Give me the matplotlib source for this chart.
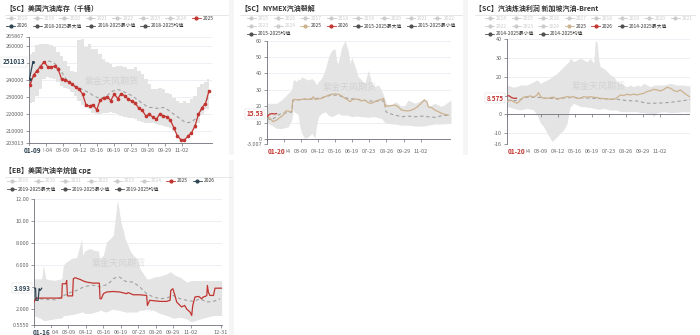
import matplotlib
matplotlib.use('Agg')
import matplotlib.pyplot as plt
import matplotlib.lines as mlines
import matplotlib.patches as mpatches
import pandas as pd

plt.rcParams['font.family'] = ['Noto Sans CJK SC', 'DejaVu Sans']

# ---------------- data ----------------
tick_labels = ['01-01', '02-04', '03-09', '04-12', '05-16', '06-19', '07-23', '08-26', '09-29', '11-02']

# Panel 1: US gasoline stocks (kbbl), weekly 2025 from 01-03
p1_week_start = '2025-01-03'
p1_2025 = [237180, 243140, 245710, 248100, 251070, 248100, 247900, 248300, 246700, 240760,
           240360, 239170, 237580, 236000, 234800, 231800, 225280, 224880, 225680, 222500,
           228450, 229650, 230240, 228050, 231820, 229250, 232220, 230840, 228860, 227660,
           226470, 223500, 222300, 218930, 219920, 218330, 216950, 220320, 218930, 218530,
           216550, 211990, 207030, 205040, 204650, 207030, 209010, 212980, 219920, 223890,
           226270, 233810]
p1_max = [255600, 256600, 260600, 261600, 261600, 261600, 261000, 259600, 256600, 254600,
          251700, 248700, 245700, 245100, 263600, 264600, 259600, 261600, 258600, 258600,
          255600, 252700, 250700, 249700, 247700, 248700, 248700, 247700, 246700, 246700,
          247700, 245700, 243700, 240800, 237800, 234800, 234800, 235200, 234800, 232800,
          231800, 229800, 227900, 226900, 227900, 226900, 228800, 230800, 235800, 237800,
          238800, 240800]
p1_min = [226900, 227300, 230800, 234800, 240800, 241700, 241100, 240800, 239200, 236400,
          235200, 234800, 233200, 230800, 227900, 225300, 224500, 222900, 220900, 219900,
          219900, 220900, 220900, 221300, 220500, 219900, 218900, 218500, 217900, 217900,
          216900, 216000, 215400, 215000, 214600, 214600, 214000, 213400, 213000, 212600,
          212000, 210000, 207030, 205040, 204650, 206500, 208000, 211000, 215000, 219900,
          222900, 223300]
p1_avg = [238000, 242000, 246000, 249000, 251000, 251500, 251000, 250000, 248000, 245000,
          241500, 239000, 237500, 236500, 235500, 234500, 233500, 232500, 231000, 230000,
          229500, 230000, 231000, 233000, 234000, 234500, 234000, 233000, 232000, 231000,
          229500, 228000, 226500, 225000, 224000, 224000, 223500, 223500, 224000, 223000,
          221500, 220000, 218500, 217000, 215500, 215000, 215500, 217000, 219500, 223000,
          227000, 231000]
p1_2026_days = [1, 8]
p1_2026 = [241000, 251013]

# Panel 2: NYMEX gasoline crack
p2_2025_days = [1, 6, 12, 19, 26, 32, 37, 42, 49, 51, 55, 62, 69, 75, 82, 89, 92, 95, 102, 108,
                115, 122, 128, 135, 142, 148, 155, 161, 165, 168, 175, 181, 188, 194, 201, 207,
                214, 221, 227, 231, 234, 241, 247, 254, 260, 267, 274, 280, 287, 294, 300, 307,
                312, 317, 320, 327, 333, 340, 346, 353, 360]
p2_2025 = [14.0, 12.6, 10.6, 11.6, 13.2, 14.6, 17.1, 17.1, 16.5, 23.8, 24.2, 23.8, 24.2, 24.4,
           24.2, 24.8, 25.8, 24.2, 24.4, 24.8, 25.8, 26.8, 27.3, 27.5, 27.3, 26.4, 24.8, 23.8,
           22.8, 23.8, 24.4, 24.2, 23.2, 23.8, 22.2, 21.8, 22.8, 23.8, 24.2, 24.8, 20.1, 20.1,
           20.5, 20.7, 19.7, 17.7, 17.3, 17.1, 17.7, 18.7, 20.1, 22.2, 23.8, 22.8, 19.7, 19.1,
           17.7, 16.7, 15.7, 15.0, 14.6]
p2_2026_days = [0, 5, 10, 15, 19]
p2_2026 = [13.5, 15.2, 15.5, 15.3, 15.53]
p2_avg_days = [1, 9, 19, 29, 42, 49, 52, 69, 89, 108, 128, 142, 148, 161, 175, 188, 201, 214,
               227, 233, 236, 241, 254, 267, 280, 294, 307, 320, 333, 346, 360]
p2_avg = [12.6, 11.6, 14.0, 15.7, 16.0, 16.5, 23.8, 24.2, 24.4, 25.2, 26.8, 26.8, 25.8, 24.8,
          24.4, 23.8, 23.2, 23.2, 23.2, 23.2, 16.7, 15.7, 14.6, 13.6, 14.0, 13.6, 14.0, 13.6,
          13.2, 14.2, 14.6]
p2_band_days = [0, 9, 19, 29, 36, 42, 49, 52, 56, 59, 62, 65, 69, 75, 82, 89, 95, 98, 102, 108,
                115, 122, 128, 135, 138, 141, 148, 155, 161, 165, 168, 175, 181, 188, 194, 201,
                208, 214, 221, 227, 232, 237, 241, 247, 254, 260, 267, 274, 280, 294, 307, 312,
                320, 333, 346, 365]
p2_max = [21.8, 21.8, 21.8, 24, 26, 28, 30, 36, 36, 35, 37, 36, 38, 37, 36, 37, 35, 33, 35, 37,
          42, 50, 54, 55, 48, 46, 56, 60, 54, 46, 50, 44, 38, 36, 34, 42, 34, 32, 33, 30, 26,
          21.8, 21, 20.7, 22.8, 21.8, 19.7, 20.7, 23.8, 21.8, 23.8, 25, 19.7, 21.8, 19.7, 23.8]
p2_min = [9.6, 8.5, 6.5, 6.5, 7, 7.5, 11.6, 17.7, 16, 15.7, 14.6, 7.5, 3.5, 0.4, 1.4, 3.5, 0.4,
          7.5, 13.6, 15.7, 16.7, 14.6, 13.6, 14.6, 15, 15.7, 14.6, 14.6, 14.6, 14, 13.6, 14, 14,
          13.6, 13.6, 13.2, 13.6, 13.6, 13, 12.6, 10.6, 9.6, 9.6, 9.2, 9.2, 8.8, 8.5, 8.5, 8.5,
          7.9, 7.9, 8, 8.5, 9.2, 9.2, 9.6]

# Panel 3: Singapore gasoline - Brent
p3_2025_days = [1, 7, 13, 20, 27, 33, 40, 47, 53, 60, 63, 67, 73, 80, 86, 93, 100, 106, 113, 120,
                126, 133, 140, 146, 153, 160, 166, 173, 180, 186, 193, 200, 206, 213, 219, 226,
                233, 239, 246, 253, 259, 266, 273, 279, 286, 293, 299, 306, 313, 319, 326, 333,
                339, 346, 352, 359, 364]
p3_2025 = [6.8, 7.6, 6.8, 5.9, 7.6, 9.1, 9.4, 9.8, 9.1, 10.3, 11.6, 9.4, 8.5, 8.5, 8.9, 9.1, 8.0,
           8.5, 8.9, 9.4, 9.1, 9.4, 8.5, 8.5, 9.4, 9.1, 9.4, 9.1, 8.9, 8.5, 8.4, 8.2, 8.0, 8.0,
           8.7, 10.3, 10.0, 10.7, 10.3, 10.8, 10.3, 10.8, 11.2, 12.1, 12.6, 13.3, 13.0, 12.4,
           13.3, 14.4, 13.9, 12.6, 12.1, 13.0, 11.6, 10.3, 9.4]
p3_2026_days = [0, 4, 9, 14, 19]
p3_2026 = [9.8, 9.9, 8.9, 8.5, 8.575]
p3_avg_days = [1, 13, 27, 40, 60, 80, 100, 120, 140, 160, 180, 200, 219, 239, 259, 279, 299,
               319, 339, 359, 365]
p3_avg = [7.6, 7.1, 8.0, 9.1, 9.1, 8.5, 8.4, 8.9, 8.9, 8.7, 8.4, 8.2, 8.0, 7.3, 7.1, 5.9, 5.9,
          6.2, 6.8, 7.6, 8.0]
p3_band_days = [1, 13, 27, 40, 53, 60, 67, 73, 80, 86, 90, 100, 106, 113, 120, 123, 126, 133,
                140, 146, 153, 160, 166, 173, 176, 180, 183, 186, 193, 200, 206, 213, 219, 226,
                233, 239, 246, 253, 259, 266, 273, 279, 286, 293, 299, 313, 326, 339, 352, 365]
p3_max = [15.6, 14.4, 15.6, 15.6, 17.4, 18.3, 16.5, 17.4, 18.3, 19.2, 20.1, 21.9, 23.6, 25.4,
          27.2, 28, 29.9, 28.1, 29, 29.9, 29, 28.1, 29.9, 27.2, 39.6, 37.9, 29, 25.4, 24.5, 22.8,
          21, 20.1, 17.4, 16.5, 15.6, 14.7, 15.6, 14.7, 15.6, 15, 16.5, 15.6, 14.7, 15.6, 15.6,
          15.6, 16.5, 15.6, 15.6, 15.1]
p3_min = [4.1, 3.2, 2.3, 3.2, 2.3, -0.4, -4.8, -6.6, -10.1, -12.8, -14.5, -11.9, -10.1, -8.4,
          -4.8, 0.5, 4, 5.9, 5, 4.1, 4.1, 3.7, 3.7, 3.2, 3.2, 2.7, 2.7, 2.7, 3.2, 2.7, 2.3, 2.3,
          2.3, 1.4, 1.4, 1.4, 1.4, 1.4, 1.4, 0.9, 0.9, 0.5, 0.5, -1.2, 0.9, 1.4, 0.9, 1.1, 1.4,
          1.2]

# Panel 4: US gasoline octane value (cpg)
p4_2025_days = [0, 4, 54, 55, 62, 63.5, 65, 75, 76.5, 80, 86, 89.5, 96, 102.5, 109, 115, 127,
                128.4, 131, 135, 141, 154, 167, 180, 183, 193, 206, 219, 220.5, 225, 245, 258,
                264.6, 266, 270, 274, 277.5, 284, 287, 293, 297, 303.5, 306.7, 308.7, 313, 320,
                323, 326, 329, 333, 336, 337.2, 339, 342, 349, 352, 365]
p4_2025 = [2.64, 3.0, 3.0, 4.3, 4.3, 4.6, 3.2, 3.2, 4.76, 4.85, 4.75, 4.7, 4.55, 4.45, 4.4,
           4.36, 4.36, 2.94, 2.94, 3.4, 3.55, 3.6, 3.55, 3.4, 3.5, 3.3, 3.3, 3.24, 2.33, 2.8,
           2.7, 2.7, 2.8, 3.7, 3.85, 3.24, 2.64, 2.33, 2.2, 2.33, 2.0, 1.73, 1.42, 2.33, 3.1,
           3.15, 3.05, 2.94, 3.1, 3.15, 3.24, 4.15, 3.55, 3.24, 3.24, 3.9, 3.9]
p4_2026_days = [0, 3, 4, 8, 10, 12, 15]
p4_2026 = [3.9, 3.9, 2.8, 2.8, 3.85, 3.7, 3.893]
p4_avg_days = [0, 18, 31, 44, 57, 63.5, 70, 83, 96, 109, 122, 128, 135, 141, 148, 154, 161,
               167, 174, 180, 193, 206, 219, 232, 245, 258, 271, 284, 297, 310, 323, 336, 349, 362]
p4_avg = [3.0, 2.9, 2.85, 2.85, 3.2, 3.35, 3.5, 3.7, 4.0, 4.15, 4.15, 4.0, 4.15, 4.2, 4.45,
          4.75, 4.9, 4.9, 4.6, 4.5, 4.45, 4.0, 3.4, 3.1, 2.94, 3.0, 3.24, 2.94, 2.8, 2.7, 2.94,
          2.64, 2.7, 2.94]
p4_band_days = [0, 15, 18, 23, 38, 54, 57, 63.5, 73, 83, 92.7, 94.7, 99, 109, 119, 125, 128,
                135, 141, 148, 154, 159.5, 162, 164.7, 167, 170.6, 174, 177, 180, 187, 193, 200,
                206, 213, 219, 226, 232, 245, 258, 264.6, 271, 277.5, 284, 297, 306.7, 310, 323,
                336, 349, 365]
p4_max = [4.75, 4.75, 6.0, 4.75, 4.6, 4.75, 6.0, 6.3, 6.6, 6.7, 8.4, 6.9, 7.3, 7.5, 7.3, 7.3,
          6.6, 6.9, 8.1, 8.4, 8.7, 10.8, 11.9, 11.2, 10.5, 9.6, 9.1, 8.4, 8.1, 7.3, 6.9, 6.6,
          5.7, 5.2, 4.75, 4.75, 4.9, 5.0, 5.2, 5.4, 5.2, 5.0, 4.9, 4.45, 4.6, 4.6, 4.6, 4.6, 4.6,
          4.6]
p4_min = [1.42, 1.1, 0.97, 0.97, 1.1, 1.2, 1.42, 1.42, 1.5, 1.6, 1.73, 1.73, 1.6, 1.6, 1.73,
          1.8, 1.9, 1.8, 1.73, 1.9, 2.03, 1.9, 1.9, 1.9, 1.9, 1.8, 1.8, 1.73, 1.73, 1.73, 1.73,
          1.73, 1.9, 1.9, 2.03, 1.9, 1.9, 1.6, 1.42, 1.3, 1.18, 1.2, 1.27, 1.1, 0.82, 0.9, 1.1,
          1.27, 1.42, 1.42]

# ---------------- styling ----------------
W, H = 700, 335
RED = '#c23531'
NAVY = '#2f4554'
TAN = '#cdb28f'
BAND = '#e4e4e4'
AVG = '#a0a0a0'
AXC = '#6e7079'
LBL = '#666666'
OFF = '#cccccc'
DARK = '#505050'

fig = plt.figure(figsize=(7, 3.35), dpi=100)
fig.patch.set_facecolor('white')


def fx(px):
    return px / W


def fy(py):
    return 1 - py / H


def add_axes(l, t, r, b):
    return fig.add_axes([fx(l), fy(b), fx(r - l), (b - t) / H])


def doy(md):
    return pd.Timestamp('2025-' + md).dayofyear - 1


tick_days = [doy(s) for s in tick_labels]
# the first tick label sits under the highlighted current-date label in every panel
tick_labels_shown = [''] + tick_labels[1:]


def style(ax, ylim, yticks, ylabels, onzero=False, xt=None, xl=None):
    xt = tick_days if xt is None else xt
    xl = tick_labels_shown if xl is None else xl
    ax.set_xlim(0, 365)
    ax.set_ylim(*ylim)
    ax.set_yticks(yticks)
    ax.set_yticklabels(ylabels)
    ax.set_xticks(xt)
    ax.set_xticklabels(xl)
    for s in ['top', 'right']:
        ax.spines[s].set_visible(False)
    ax.spines['left'].set_color(AXC)
    ax.spines['left'].set_linewidth(0.6)
    ax.spines['bottom'].set_color(AXC)
    ax.spines['bottom'].set_linewidth(0.6)
    ax.tick_params(axis='both', labelsize=4, labelcolor=LBL, color=AXC, length=2,
                   width=0.5, pad=1.5)
    ax.grid(axis='y', color='#e6e9f0', lw=0.5)
    ax.set_axisbelow(True)
    ax.set_facecolor('none')
    if onzero:
        ax.spines['bottom'].set_visible(False)
        ax.tick_params(axis='x', length=0, pad=3.5)
        ax.axhline(0, color=AXC, lw=0.6, zorder=1.6)
        ax.plot(xt, [0] * len(xt), ls='none', marker=mlines.TICKDOWN, ms=2, mew=0.5,
                color=AXC, zorder=1.6)


def hl_y(ax, val, text, color):
    ax.annotate(text, xy=(0, val), xycoords=('axes fraction', 'data'), xytext=(-2.5, 0),
                textcoords='offset points', ha='right', va='center', fontsize=4.6,
                fontweight='bold', color=color, zorder=20, annotation_clip=False,
                bbox=dict(boxstyle='square,pad=0.25', fc='white', ec='#d5d5d5', lw=0.3))


def hl_x(ax, day, text, color, off=-3.0):
    ax.annotate(text, xy=(day, 0), xycoords=('data', 'axes fraction'), xytext=(0, off),
                textcoords='offset points', ha='center', va='top', fontsize=4.7,
                fontweight='bold', color=color, zorder=20, annotation_clip=False,
                bbox=dict(boxstyle='square,pad=0.15', fc='white', ec='none'))


def watermark(ax, xf, yf):
    ax.text(xf, yf, '紫金天风期货', transform=ax.transAxes, fontsize=6.5, color='#b8b8b8',
            alpha=0.4, ha='center', va='center', zorder=5)


renderer = fig.canvas.get_renderer()


def legend_rows(x0, y0, dy, rows, fs=3.5):
    for r, row in enumerate(rows):
        y = y0 + r * dy
        x = x0
        for label, color, active in row:
            fig.add_artist(mlines.Line2D([fx(x), fx(x + 9)], [fy(y), fy(y)], color=color, lw=0.6))
            fig.add_artist(mlines.Line2D([fx(x + 4.5)], [fy(y)], marker='o', ms=2.0,
                                         color=color, mec=color, lw=0))
            t = fig.text(fx(x + 11), fy(y), label, fontsize=fs,
                         color='#333333' if active else OFF, va='center', ha='left')
            w = t.get_window_extent(renderer).width
            x += 11 + w + 4.5


def title(x, y, text, x1):
    fig.text(fx(x), fy(y), text, fontsize=5, fontweight='bold', color='#333333',
             va='center', ha='left')
    fig.add_artist(mlines.Line2D([fx(x), fx(x1)], [fy(y + 7), fy(y + 7)], color='#dddddd', lw=0.5))


def inactive(years):
    return [(str(y), OFF, False) for y in years]


# separators
for (l, t, r, b) in [(229, 0, 234, 155), (463, 0, 468, 155), (229, 160, 234, 335)]:
    fig.add_artist(mpatches.Rectangle((fx(l), fy(b)), fx(r - l), (b - t) / H,
                                      color='#f5f5f5', lw=0, transform=fig.transFigure))

# ---------------- Panel 1 ----------------
title(5, 8, '【SC】美国汽油库存（千桶）', 228)
legend_rows(6, 18.3, 7.2, [
    inactive(range(2018, 2025)) + [('2025', RED, True)],
    [('2026', NAVY, True), ('2018-2025最大值', DARK, True), ('2018-2025最小值', DARK, True),
     ('2018-2025均值', DARK, True)],
])
ax1 = add_axes(29, 36.5, 212, 143)
d1 = [d.dayofyear - 1 for d in pd.date_range(p1_week_start, periods=len(p1_2025), freq='7D')]
ax1.fill_between(d1, p1_min, p1_max, step='mid', color=BAND, lw=0, zorder=1)
ax1.plot(d1, p1_avg, color=AVG, lw=0.8, ls=(0, (3, 2.5)), zorder=3)
ax1.plot(d1, p1_2025, color=RED, lw=0.9, marker='o', ms=1.6, zorder=4)
ax1.plot(p1_2026_days, p1_2026, color=NAVY, lw=0.9, marker='o', ms=1.2, zorder=4)
style(ax1, (203013, 265867), [203013, 210000, 220000, 230000, 240000, 250000, 260000, 265867],
      ['203013', '210000', '220000', '230000', '240000', '', '260000', '265867'])
watermark(ax1, 0.45, 0.58)
hl_y(ax1, 251013, '251013', NAVY)
hl_x(ax1, 8, '01-09', NAVY)

# ---------------- Panel 2 ----------------
title(240, 8, '【SC】NYMEX汽油裂解', 462)
legend_rows(247, 18.3, 7.6, [
    inactive(range(2015, 2023)),
    inactive([2023, 2024]) + [('2025', TAN, True), ('2026', RED, True),
                              ('2015-2025最大值', DARK, True), ('2015-2025最小值', DARK, True)],
    [('2015-2025均值', DARK, True)],
])
ax2 = add_axes(267, 40.7, 451, 144)
ax2.fill_between(p2_band_days, p2_min, p2_max, color=BAND, lw=0, zorder=1)
ax2.plot(p2_avg_days, p2_avg, color=AVG, lw=0.8, ls=(0, (3, 2.5)), zorder=3)
ax2.plot(p2_2025_days, p2_2025, color=TAN, lw=0.9, zorder=4)
ax2.plot(p2_2026_days, p2_2026, color=RED, lw=0.9, zorder=4)
style(ax2, (-3.007, 60), [-3.007, 0, 10, 20, 30, 40, 50, 60],
      ['-3.007', '0', '10', '20', '30', '40', '50', '60'], onzero=True)
watermark(ax2, 0.45, 0.55)
hl_y(ax2, 15.53, '15.53', RED)
hl_x(ax2, 19, '01-20', RED)

# ---------------- Panel 3 ----------------
title(475, 8, '【SC】汽油炼油利润 新加坡汽油-Brent', 695)
legend_rows(485, 18.3, 7.8, [
    inactive(range(2014, 2022)),
    inactive([2022, 2023, 2024]) + [('2025', TAN, True), ('2026', RED, True),
                                    ('2014-2025最大值', DARK, True)],
    [('2014-2025最小值', DARK, True), ('2014-2025均值', DARK, True)],
])
ax3 = add_axes(507, 39.3, 690, 144.3)
ax3.fill_between(p3_band_days, p3_min, p3_max, color=BAND, lw=0, zorder=1)
ax3.plot(p3_avg_days, p3_avg, color=AVG, lw=0.8, ls=(0, (3, 2.5)), zorder=3)
ax3.plot(p3_2025_days, p3_2025, color=TAN, lw=0.9, zorder=4)
ax3.plot(p3_2026_days, p3_2026, color=RED, lw=0.9, zorder=4)
style(ax3, (-16, 40), [-16, -10, 0, 10, 20, 30, 40],
      ['-16', '-10', '0', '', '20', '30', '40'], onzero=True)
watermark(ax3, 0.5, 0.55)
hl_y(ax3, 8.575, '8.575', RED)
hl_x(ax3, 19, '01-20', RED)

# ---------------- Panel 4 ----------------
title(5, 170, '【EB】美国汽油辛烷值 cpg', 232)
legend_rows(7, 181, 8.3, [
    inactive(range(2019, 2025)) + [('2025', RED, True), ('2026', NAVY, True)],
    [('2019-2025最大值', DARK, True), ('2019-2025最小值', DARK, True), ('2019-2025均值', DARK, True)],
])
ax4 = add_axes(34, 199, 221.7, 325)
ax4.fill_between(p4_band_days, p4_min, p4_max, color=BAND, lw=0, zorder=1)
ax4.plot(p4_avg_days, p4_avg, color=AVG, lw=0.8, ls=(0, (3, 2.5)), zorder=3)
ax4.plot(p4_2025_days, p4_2025, color=RED, lw=0.9, zorder=4)
ax4.plot(p4_2026_days, p4_2026, color=NAVY, lw=0.9, zorder=4)
style(ax4, (0.555, 12), [0.555, 2, 4, 6, 8, 10, 12],
      ['0.5550', '2.000', '', '6.000', '8.000', '10.00', '12.00'],
      xt=tick_days + [364], xl=tick_labels_shown + ['12-31'])
watermark(ax4, 0.45, 0.49)
hl_y(ax4, 3.893, '3.893', NAVY)
hl_x(ax4, 15, '01-16', NAVY, off=-2.6)

fig.savefig('out.png', dpi=100, facecolor='white')
